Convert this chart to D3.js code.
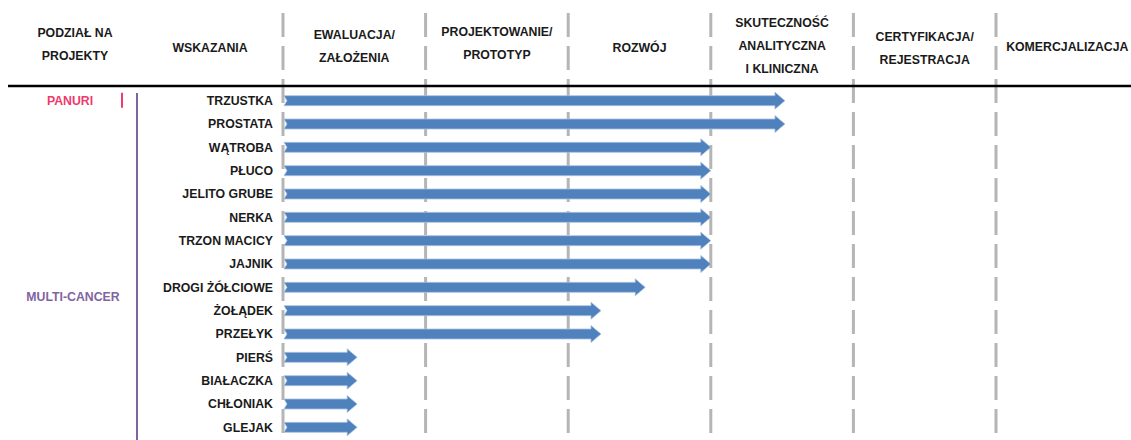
<!DOCTYPE html>
<html>
<head>
<meta charset="utf-8">
<script src="https://cdn.jsdelivr.net/npm/d3@7"></script>
<style>
  html, body { margin: 0; padding: 0; background: #fff; }
  svg { display: block; }
</style>
</head>
<body>
<script>
// Phase headers (each one a list of lines)
const phases = [
  ['EWALUACJA/', 'ZAŁOŻENIA'],
  ['PROJEKTOWANIE/', 'PROTOTYP'],
  ['ROZWÓJ'],
  ['SKUTECZNOŚĆ', 'ANALITYCZNA', 'I KLINICZNA'],
  ['CERTYFIKACJA/', 'REJESTRACJA'],
  ['KOMERCJALIZACJA']
];

// Indications and how far along the phases each one is
const indications = ['TRZUSTKA', 'PROSTATA', 'WĄTROBA', 'PŁUCO', 'JELITO GRUBE', 'NERKA',
  'TRZON MACICY', 'JAJNIK', 'DROGI ŻÓŁCIOWE', 'ŻOŁĄDEK', 'PRZEŁYK', 'PIERŚ',
  'BIAŁACZKA', 'CHŁONIAK', 'GLEJAK'];
const progress = [3.52, 3.52, 3.0, 3.0, 3.0, 3.0, 3.0, 3.0, 2.54, 2.23, 2.23, 0.52, 0.52, 0.52, 0.52];

// Projects
const projects = ['PANURI', 'MULTI-CANCER'];
const projectColors = ['#ee3a6c', '#8064a2'];

const width = 1131, height = 440;
const font = '"Liberation Sans", Arial, sans-serif';
const fsize = '12.3px';

const svg = d3.select('body').append('svg')
  .attr('width', width)
  .attr('height', height)
  .attr('viewBox', `0 0 ${width} ${height}`);

const x = d3.scaleLinear().domain([0, phases.length]).range([283, 283 + 142.6 * phases.length]);
const y = d3.scaleBand().domain(indications).range([89, 439]).paddingInner(0);

// dashed phase separators
svg.append('g').selectAll('line')
  .data(d3.range(phases.length))
  .enter().append('line')
  .attr('x1', d => x(d)).attr('x2', d => x(d))
  .attr('y1', 13).attr('y2', height)
  .attr('stroke', '#b5b5b5')
  .attr('stroke-width', 3)
  .attr('stroke-dasharray', '24,9');

// header
const hdr = svg.append('g')
  .attr('font-family', font)
  .attr('font-size', fsize)
  .attr('font-weight', 'bold')
  .attr('fill', '#1a1a1a')
  .attr('text-anchor', 'middle');

function multiline(g, lines, cx, cy, lh) {
  const t = g.append('text').attr('x', cx);
  const off = (lines.length - 1) / 2;
  lines.forEach((l, i) => {
    t.append('tspan').attr('x', cx).attr('y', cy + (i - off) * lh).attr('dy', '0.35em').text(l);
  });
}

multiline(hdr, ['PODZIAŁ NA', 'PROJEKTY'], 75, 44, 22.5);
multiline(hdr, ['WSKAZANIA'], 210, 48, 22.5);
const headerY = [46, 43, 48, 46, 48, 47];
phases.forEach((p, i) => {
  multiline(hdr, p, (x(i) + x(i + 1)) / 2, headerY[i], 23);
});

// header rule
svg.append('line')
  .attr('x1', 8).attr('x2', width)
  .attr('y1', 86).attr('y2', 86)
  .attr('stroke', '#000')
  .attr('stroke-width', 2.5);

// project labels
const projG = svg.append('g')
  .attr('font-family', font)
  .attr('font-size', fsize)
  .attr('font-weight', 'bold')
  .attr('text-anchor', 'middle');

const yc = d => y(d) + y.bandwidth() / 2;
projG.append('text')
  .attr('x', 70).attr('y', yc(indications[0])).attr('dy', '0.35em')
  .attr('fill', projectColors[0]).text(projects[0]);
projG.append('text')
  .attr('x', 73).attr('y', (yc(indications[8]) + yc(indications[9])) / 2 - 2).attr('dy', '0.35em')
  .attr('fill', projectColors[1]).text(projects[1]);

svg.append('line')
  .attr('x1', 122).attr('x2', 122)
  .attr('y1', yc(indications[0]) - 8).attr('y2', yc(indications[0]) + 7)
  .attr('stroke', projectColors[0]).attr('stroke-width', 2);
svg.append('line')
  .attr('x1', 137).attr('x2', 137)
  .attr('y1', 93).attr('y2', height)
  .attr('stroke', projectColors[1]).attr('stroke-width', 2);

// indication labels
svg.append('g')
  .attr('font-family', font)
  .attr('font-size', fsize)
  .attr('font-weight', 'bold')
  .attr('fill', '#1a1a1a')
  .attr('text-anchor', 'end')
  .selectAll('text')
  .data(indications)
  .enter().append('text')
  .attr('x', 273)
  .attr('y', d => yc(d))
  .attr('dy', '0.35em')
  .text(d => d);

// arrows
function arrowPath(x0, x1, cy) {
  const sh = 5, hh = 8.5, hl = 10, notch = 3;
  const xb = x1 - hl;
  return `M${x0},${cy - sh} L${xb},${cy - sh} L${xb},${cy - hh} L${x1},${cy} L${xb},${cy + hh} L${xb},${cy + sh} L${x0},${cy + sh} L${x0 + notch},${cy} Z`;
}

svg.append('g').selectAll('path')
  .data(indications)
  .enter().append('path')
  .attr('d', (d, i) => arrowPath(x(0) + 1, x(progress[i]), yc(d)))
  .attr('fill', '#4f81bd')
  .attr('stroke', '#a9c1e0')
  .attr('stroke-width', 0.8);
</script>
</body>
</html>
